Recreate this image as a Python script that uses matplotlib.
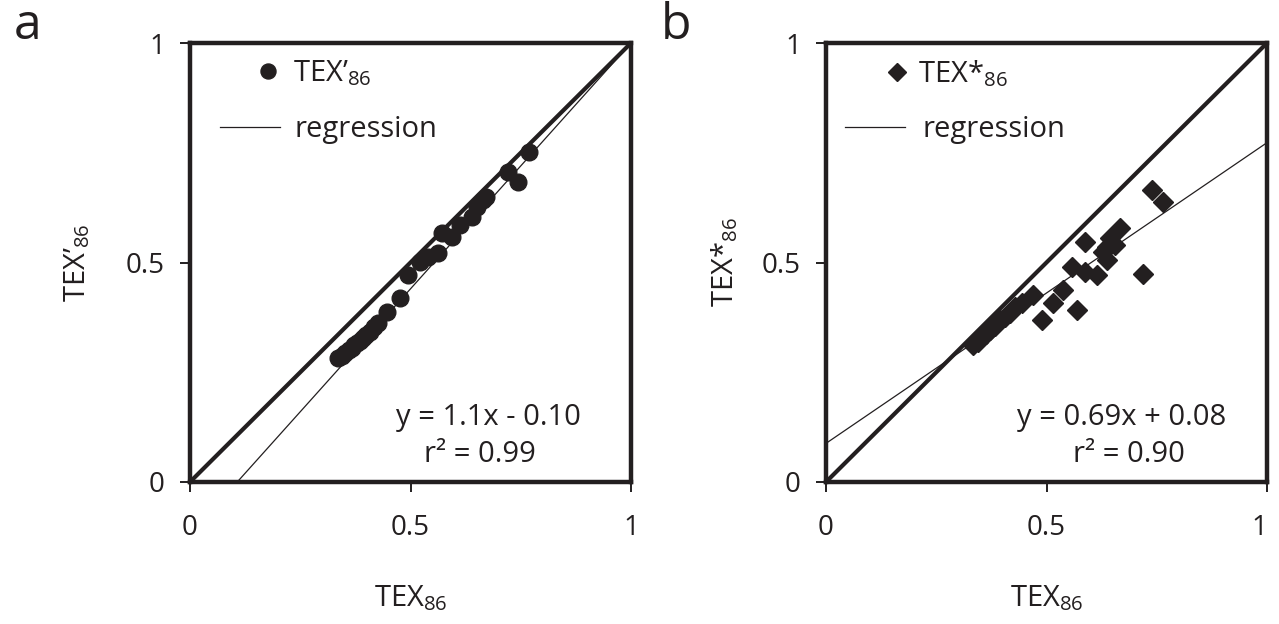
import matplotlib
matplotlib.use("Agg")
import matplotlib.pyplot as plt
from matplotlib.lines import Line2D

plt.rcParams['font.family'] = ['Open Sans', 'DejaVu Sans']
plt.rcParams['mathtext.fontset'] = 'custom'
plt.rcParams['mathtext.rm'] = 'Open Sans'
plt.rcParams['mathtext.it'] = 'Open Sans'
plt.rcParams['mathtext.bf'] = 'Open Sans'

ink = '#231f20'

# panel a: TEX86 vs TEX'86
tex86_a = [0.336, 0.345, 0.351, 0.360, 0.368, 0.373, 0.378, 0.385, 0.393, 0.400,
           0.408, 0.418, 0.427, 0.446, 0.476, 0.495, 0.522, 0.540, 0.563, 0.571,
           0.594, 0.612, 0.639, 0.651, 0.664, 0.672, 0.721, 0.744, 0.769]
texp_a = [0.283, 0.287, 0.294, 0.300, 0.305, 0.312, 0.316, 0.322, 0.328, 0.335,
          0.342, 0.352, 0.362, 0.388, 0.419, 0.472, 0.501, 0.513, 0.522, 0.567,
          0.558, 0.585, 0.604, 0.626, 0.642, 0.650, 0.706, 0.683, 0.752]

# panel b: TEX86 vs TEX*86
tex86_b = [0.333, 0.345, 0.354, 0.362, 0.372, 0.383, 0.395, 0.405, 0.417, 0.429,
           0.444, 0.469, 0.490, 0.515, 0.537, 0.558, 0.569, 0.587, 0.587, 0.614,
           0.628, 0.637, 0.637, 0.644, 0.655, 0.667, 0.719, 0.739, 0.764]
texs_b = [0.312, 0.320, 0.330, 0.338, 0.346, 0.356, 0.369, 0.376, 0.385, 0.399,
          0.407, 0.426, 0.369, 0.407, 0.437, 0.490, 0.392, 0.478, 0.547, 0.472,
          0.524, 0.506, 0.535, 0.556, 0.540, 0.578, 0.474, 0.665, 0.638]

# regression lines (slope, intercept) as drawn
reg_a = (1.12, -0.12)
reg_b = (0.685, 0.088)
eq_a = ['y = 1.1x - 0.10', 'r\u00b2 = 0.99']
eq_b = ['y = 0.69x + 0.08', 'r\u00b2 = 0.90']

ticks = [0, 0.5, 1]
tick_labels = ['0', '0.5', '1']

fig = plt.figure(figsize=(12.79, 6.24), dpi=100)
ax_a = fig.add_axes([190 / 1279, 142 / 624, 441 / 1279, 439 / 624])
ax_b = fig.add_axes([826 / 1279, 142 / 624, 441 / 1279, 439 / 624])


def setup(ax, xs, ys, marker, ms, reg, eq, ylab, ypad, leg):
    ax.plot([0, 1], [0, 1], color=ink, lw=3.0, zorder=2)
    xx = [0, 1]
    yy = [reg[0] * v + reg[1] for v in xx]
    ax.plot(xx, yy, color=ink, lw=0.9, zorder=2)
    ax.plot(xs, ys, ls='none', marker=marker, ms=ms, color=ink, mec=ink, zorder=3)
    ax.set_xlim(0, 1)
    ax.set_ylim(0, 1)
    ax.set_xticks(ticks)
    ax.set_xticklabels(tick_labels)
    ax.set_yticks(ticks)
    ax.set_yticklabels(tick_labels)
    ax.tick_params(axis='both', direction='out', length=7, width=1.4, colors=ink,
                   labelsize=20, labelcolor=ink)
    ax.tick_params(axis='x', pad=16)
    ax.tick_params(axis='y', pad=11)
    for s in ax.spines.values():
        s.set_linewidth(3.2)
        s.set_color(ink)
    ax.set_xlabel('TEX$_{\\mathregular{86}}$', fontsize=21, color=ink, labelpad=30)
    ax.set_ylabel(ylab, fontsize=21, color=ink, labelpad=ypad)
    ax.text(eq[2], 0.146, eq[0], fontsize=21, color=ink, ha='center', va='center')
    ax.text(eq[3], 0.062, eq[1], fontsize=21, color=ink, ha='center', va='center')

    h1 = Line2D([], [], ls='none', marker=marker, ms=ms * 0.9, color=ink)
    l1 = ax.legend([h1], [leg[0]], loc='center left', bbox_to_anchor=(leg[1], 0.93),
                   frameon=False, fontsize=21, handlelength=0.6, handletextpad=leg[2],
                   borderpad=0, borderaxespad=0, labelcolor=ink)
    ax.add_artist(l1)
    h2 = Line2D([], [], color=ink, lw=0.9)
    ax.legend([h2], ['regression'], loc='center left', bbox_to_anchor=(leg[3], 0.803),
              frameon=False, fontsize=21, handlelength=2.05, handletextpad=leg[4],
              borderpad=0, borderaxespad=0, labelcolor=ink)


setup(ax_a, tex86_a, texp_a, 'o', 12, reg_a, eq_a + [0.676, 0.658],
      'TEX\u2019$_{\\mathregular{86}}$', 24,
      ['TEX\u2019$_{\\mathregular{86}}$', 0.158, 0.55, 0.068, 0.5])
setup(ax_b, tex86_b, texs_b, 'D', 10, reg_b, eq_b + [0.671, 0.686],
      'TEX*$_{\\mathregular{86}}$', 16,
      ['TEX*$_{\\mathregular{86}}$', 0.142, 0.42, 0.043, 0.62])

# keep the last x tick label of panel b inside the figure
ax_b.get_xticklabels()[-1].set_horizontalalignment('right')

fig.text(28 / 1279, 1 - 26 / 624, 'a', fontsize=36, color=ink, ha='center', va='center')
fig.text(676 / 1279, 1 - 26 / 624, 'b', fontsize=36, color=ink, ha='center', va='center')

fig.savefig('out.png', dpi=100)
